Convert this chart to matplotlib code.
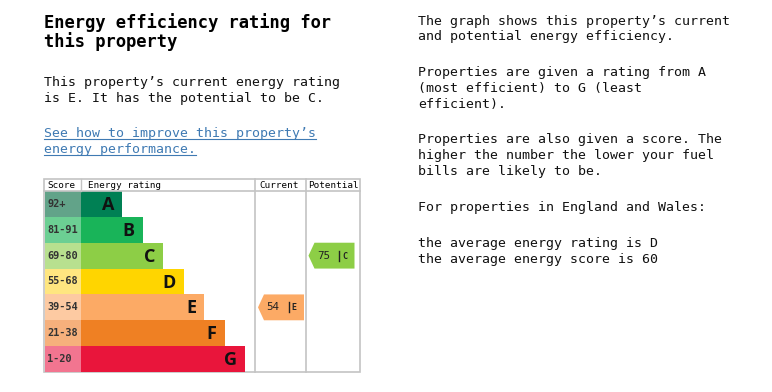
import matplotlib
matplotlib.use('Agg')
import matplotlib.pyplot as plt
from matplotlib.patches import Rectangle, Polygon

# EPC data
bands = ['A', 'B', 'C', 'D', 'E', 'F', 'G']
score_ranges = ['92+', '81-91', '69-80', '55-68', '39-54', '21-38', '1-20']
bar_colors = ['#008054', '#19b459', '#8dce46', '#ffd500', '#fcaa65', '#ef8023', '#e9153b']
score_colors = ['#62a389', '#6ccf93', '#b8e08f', '#ffe680', '#fdcaa2', '#f6b07c', '#f27590']
current_score, current_band = 54, 'E'
potential_score, potential_band = 75, 'C'

title_lines = ['Energy efficiency rating for', 'this property']
body_lines = ['This property\u2019s current energy rating', 'is E. It has the potential to be C.']
link_lines = ['See how to improve this property\u2019s', 'energy performance.']
right_lines = [
    (21, 'The graph shows this property\u2019s current'),
    (36, 'and potential energy efficiency.'),
    (72, 'Properties are given a rating from A'),
    (88, '(most efficient) to G (least'),
    (104, 'efficient).'),
    (139, 'Properties are also given a score. The'),
    (155, 'higher the number the lower your fuel'),
    (171, 'bills are likely to be.'),
    (207, 'For properties in England and Wales:'),
    (243, 'the average energy rating is D'),
    (259, 'the average energy score is 60'),
]

mono = 'DejaVu Sans Mono'
fig = plt.figure(figsize=(7.72, 3.92), dpi=100)
ax = fig.add_axes([0, 0, 1, 1])
ax.set_xlim(0, 772)
ax.set_ylim(392, 0)
ax.axis('off')

# left text block
for i, s in enumerate(title_lines):
    ax.text(44, 23 + i * 19, s, family=mono, fontsize=12.3, fontweight='bold', va='center', ha='left')
for i, s in enumerate(body_lines):
    ax.text(44, 82 + i * 16, s, family=mono, fontsize=9.5, va='center', ha='left', color='#111111')
link_texts = []
for i, s in enumerate(link_lines):
    t = ax.text(44, 133 + i * 16, s, family=mono, fontsize=9.5, va='center', ha='left', color='#3f7ab3')
    link_texts.append(t)

for y, s in right_lines:
    ax.text(418, y, s, family=mono, fontsize=9.5, va='center', ha='left', color='#111111')

# table geometry
left, right, top, bottom = 44, 360, 179, 372
head_h = 12
score_w = 37
col_cur, col_pot = 254.5, 306
row_h = (bottom - top - head_h) / len(bands)
bar_start = left + score_w
bar_step = 20.5
grid = '#c4c4c4'

ax.add_patch(Rectangle((left, top), right - left, bottom - top, fill=False, ec=grid, lw=1.2))
ax.plot([left, right], [top + head_h, top + head_h], color=grid, lw=1.2)
ax.plot([bar_start, bar_start], [top, top + head_h], color=grid, lw=1.0)
for x in (col_cur, col_pot):
    ax.plot([x, x], [top, bottom], color=grid, lw=1.2)

hy = top + head_h / 2 + 0.5
ax.text(left + 3, hy, 'Score', family=mono, fontsize=6.7, va='center')
ax.text(bar_start + 7, hy, 'Energy rating', family=mono, fontsize=6.7, va='center')
ax.text(col_cur + 5, hy, 'Current', family=mono, fontsize=6.7, va='center')
ax.text(col_pot + 2, hy, 'Potential', family=mono, fontsize=6.7, va='center')

row_y = {}
for i, b in enumerate(bands):
    y0 = top + head_h + i * row_h
    row_y[b] = y0
    ax.add_patch(Rectangle((left + 0.6, y0), score_w - 0.6, row_h, color=score_colors[i], lw=0))
    ax.text(left + 3.5, y0 + row_h / 2, score_ranges[i], family=mono, fontsize=7.4,
            fontweight='bold', va='center', color='#333333')
    bar_end = bar_start + 41 + i * bar_step
    ax.add_patch(Rectangle((bar_start, y0), bar_end - bar_start, row_h, color=bar_colors[i], lw=0))
    ax.text(bar_end - 8, y0 + row_h / 2 + 1, b, family='Open Sans', fontsize=13,
            fontweight='bold', va='center', ha='right', color='#111111')


def rating_arrow(x0, band, score):
    i = bands.index(band)
    y0 = row_y[band]
    x1 = x0 + 46
    pts = [(x0, y0 + row_h / 2), (x0 + 6, y0), (x1, y0), (x1, y0 + row_h), (x0 + 6, y0 + row_h)]
    ax.add_patch(Polygon(pts, closed=True, color=bar_colors[i], lw=0))
    yc = y0 + row_h / 2
    ax.text(x0 + 8.5, yc, str(score), family=mono, fontsize=7.8, va='center', color='#222222')
    # separator bar
    ax.plot([x0 + 30.5, x0 + 30.5], [yc - 5, yc + 5], color='#222222', lw=1.0)
    ax.text(x0 + 33.5, yc + 0.5, band, family=mono, fontsize=6, fontweight='bold', va='center', color='#222222')


rating_arrow(258, current_band, current_score)
rating_arrow(308.5, potential_band, potential_score)

# underline the link text
fig.canvas.draw()
inv = ax.transData.inverted()
for t in link_texts:
    bb = t.get_window_extent()
    (xa, ya), (xb, yb) = inv.transform([(bb.x0, bb.y0), (bb.x1, bb.y1)])
    ax.plot([xa, xb], [ya - 0.5, ya - 0.5], color='#3f7ab3', lw=0.8)

fig.savefig('out.png', dpi=100, facecolor='white')
